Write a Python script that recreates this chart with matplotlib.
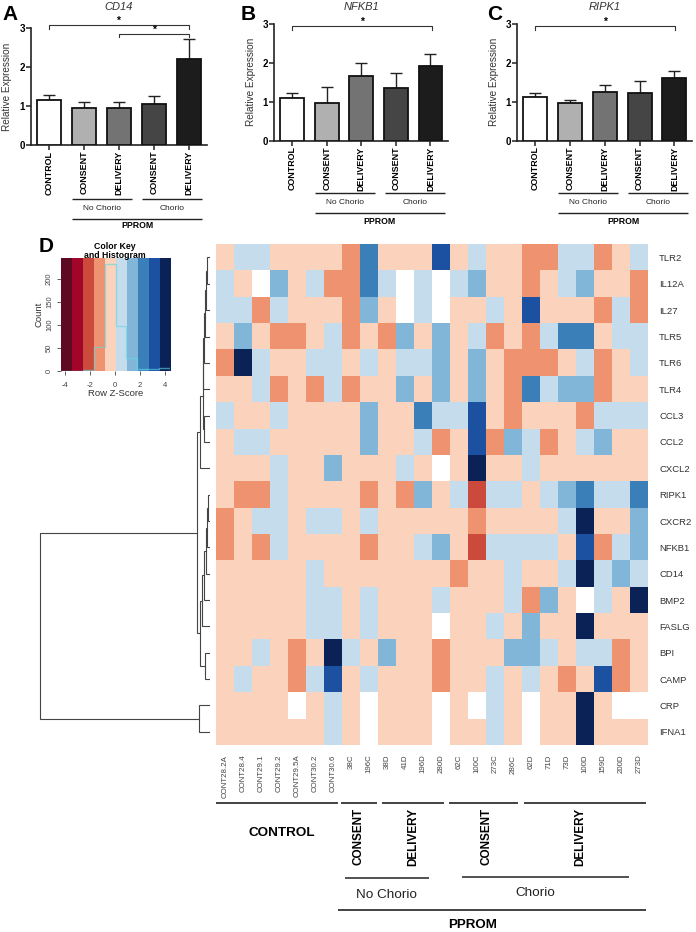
import numpy as np
import matplotlib
matplotlib.use('Agg')
import matplotlib.pyplot as plt
from matplotlib.colors import ListedColormap

plt.rcParams['font.family'] = ['Liberation Sans', 'DejaVu Sans']

W, H = 696, 932

# bar panels
groups = ['CONTROL', 'CONSENT', 'DELIVERY', 'CONSENT', 'DELIVERY']
bar_colors = ['#ffffff', '#b0b0b0', '#737373', '#454545', '#1c1c1c']
cd14_vals = [1.17, 0.95, 0.95, 1.06, 2.20]
cd14_tops = [1.28, 1.11, 1.10, 1.26, 2.73]
nfkb1_vals = [1.11, 0.98, 1.66, 1.35, 1.93]
nfkb1_tops = [1.23, 1.37, 2.00, 1.74, 2.24]
ripk1_vals = [1.13, 0.97, 1.24, 1.22, 1.62]
ripk1_tops = [1.23, 1.04, 1.44, 1.53, 1.78]

# heatmap, one letter per cell: colour band of the z-score, W = missing
genes = ['TLR2', 'IL12A', 'IL27', 'TLR5', 'TLR6', 'TLR4', 'CCL3', 'CCL2', 'CXCL2', 'RIPK1',
         'CXCR2', 'NFKB1', 'CD14', 'BMP2', 'FASLG', 'BPI', 'CAMP', 'CRP', 'IFNA1']
samples = ['CONT28.2A', 'CONT28.4', 'CONT29.1', 'CONT29.2', 'CONT29.5A', 'CONT30.2', 'CONT30.6',
           '38C', '196C', '38D', '41D', '196D', '280D', '62C', '100C', '273C', '286C',
           '62D', '71D', '73D', '100D', '159D', '200D', '273D']
heat_rows = [
    'PLLPPPPOSPPPDPLPPOOLLOPL',
    'LPWMPLOOSLWLWLMPPOPLMPPO',
    'LLOLPPPOMPWLWPPLPDPPPOLO',
    'PMPOOPLOPOMPMPLOPOLSSPLL',
    'ONLPPLLPLPLLMPMPOOOPLOPL',
    'PPLOPOLOPPMPMPMPOSLMMOPP',
    'LPPLPPPPMPPSLLDPOPPPOLLL',
    'PLLPPPPPMPPLOPDOMLOPLMPP',
    'PPPLPPMPPPLPWPNPPLPPPPPP',
    'POOLPPPPOPOMPLRLLPLMSLLS',
    'OPLLPLLPLPPPPPOPPPPLNPPM',
    'OPOLPPPPOPPLMPRLLLLPDOLM',
    'PPPPPLPPPPPPPOPPLPPLNLML',
    'PPPPPLLPLPPPLPPPLOMPWLPN',
    'PPPPPLLPLPPPWPPLPMPPNPPP',
    'PPLPOPNLPMPPOPPPMMLPLLOP',
    'PLPPOLDPLPPPOPPLPLPOPDOP',
    'PPPPWPLPWPPPWPWLPWPPNPWW',
    'PPPPPPLPWPPPWPPLPWPPNPPP',
]
band_colors = ['#5e0a22', '#a1052a', '#cb4a3c', '#ef9270', '#fbd3bc',
               '#c5dcec', '#82b6d9', '#3a7fb8', '#1c50a0', '#0a2255']
band_index = {'R': 2, 'O': 3, 'P': 4, 'L': 5, 'M': 6, 'S': 7, 'D': 8, 'N': 9}

# colour key histogram, counts per band
hist_counts = [0, 0, 2, 52, 232, 97, 29, 6, 6, 8]
key_ticks = [-4, -2, 0, 2, 4]
count_ticks = [0, 50, 100, 150, 200]

# dendrogram merges: (child, child, height), children above 18 are earlier merges
merges = [(0, 1, 0.33), (19, 2, 0.40), (20, 3, 0.53), (21, 4, 0.60), (22, 5, 0.67),
          (6, 7, 0.63), (23, 24, 0.75), (25, 8, 0.97),
          (9, 10, 0.17), (27, 11, 0.33), (28, 12, 0.40), (29, 13, 0.65), (30, 14, 0.83),
          (15, 16, 0.53), (31, 32, 0.97), (26, 33, 1.33), (17, 18, 1.13), (34, 35, 17.0)]


def px_axes(x0, y0, x1, y1, **kw):
    # axes placed by picture pixels, y counted from the top
    return fig.add_axes([x0 / W, 1 - y1 / H, (x1 - x0) / W, (y1 - y0) / H], **kw)


fig = plt.figure(figsize=(W / 100, H / 100), dpi=100)


def bar_panel(x_axis, y_top, y_base, x_end, title, title_x, vals, tops, letter, letter_x):
    ax = px_axes(x_axis, y_top, x_end, y_base)
    xs = np.arange(5)
    ax.bar(xs, vals, width=0.686, color=bar_colors, edgecolor='#111111', linewidth=1.3, zorder=3)
    up = np.array(tops) - np.array(vals)
    ax.errorbar(xs, vals, yerr=[np.zeros(5), up], fmt='none', ecolor='#222222',
                elinewidth=1.0, capsize=4.3, capthick=1.0, zorder=2)
    ax.set_xlim(-0.514, 4.506)
    ax.set_ylim(0, 3)
    ax.set_yticks([0, 1, 2, 3])
    ax.set_xticks(xs)
    ax.set_xticklabels(groups, rotation=90, fontsize=6.4, fontweight='bold')
    ax.set_yticklabels(['0', '1', '2', '3'], fontsize=7, fontweight='bold')
    ax.tick_params(axis='x', length=3.5, width=1.1, pad=0.5, color='#222222')
    ax.tick_params(axis='y', length=3.5, width=1.1, pad=1, color='#222222')
    ax.set_ylabel('Relative Expression', fontsize=7.2, color='#333333', labelpad=5)
    for s in ['top', 'right']:
        ax.spines[s].set_visible(False)
    for s in ['left', 'bottom']:
        ax.spines[s].set_linewidth(1.2)
        ax.spines[s].set_color('#222222')
    ov.text(title_x, 7.5, title, style='italic', fontsize=8, ha='center', va='center', color='#333333')
    ov.text(letter_x, 15, letter, fontsize=15, fontweight='bold', ha='left', va='center')
    return ax


ov = fig.add_axes([0, 0, 1, 1], zorder=10)
ov.set_xlim(0, W)
ov.set_ylim(H, 0)
ov.axis('off')


def rule(x0, x1, y, lw=1.0):
    ov.plot([x0, x1], [y, y], color='#222222', lw=lw, solid_capstyle='butt')


def bracket(x0, x1, y, star_x, star_y):
    ov.plot([x0, x0, x1, x1], [y + 3.3, y, y, y + 3.3], color='#333333', lw=0.8)
    ov.text(star_x, star_y, '*', fontsize=7.5, ha='center', va='center', fontweight='bold')


def under_rules(x_no, x_ch, y_first, text_y, y_pp, y_pptext):
    rule(x_no, x_no + 60, y_first)
    rule(x_ch, x_ch + 60, y_first)
    rule(x_no, x_ch + 60, y_pp)
    ov.text(x_no + 30, text_y, 'No Chorio', fontsize=6, ha='center', va='center', color='#222222')
    ov.text(x_ch + 30, text_y, 'Chorio', fontsize=6, ha='center', va='center', color='#222222')
    ov.text((x_no + x_ch + 60) / 2, y_pptext, 'PPROM', fontsize=6.3, fontweight='bold', ha='center', va='center')


bar_panel(31, 28.3, 145.3, 207, 'CD14', 119, cd14_vals, cd14_tops, 'A', 2)
bar_panel(274.3, 24, 140.7, 448, 'NFKB1', 362, nfkb1_vals, nfkb1_tops, 'B', 241)
bar_panel(517.3, 24, 140.7, 692, 'RIPK1', 605, ripk1_vals, ripk1_tops, 'C', 487)

bracket(49, 189.3, 25.3, 118, 20.5)
bracket(119.3, 189.3, 33.7, 154, 30)
bracket(292, 432, 26.3, 362, 21.5)
bracket(535, 675, 26.3, 605, 21.5)

under_rules(72, 142, 199, 208.5, 218.7, 226)
under_rules(315, 385, 193.3, 203, 213, 221)
under_rules(558, 628, 193.3, 203, 213, 221)

# colour key
key = px_axes(60.7, 258.3, 170.3, 371.3)
key_edges = np.linspace(-4.31, 4.39, 11)
key_cmap = ListedColormap(band_colors)
key.imshow(np.arange(10).reshape(1, 10), cmap=key_cmap, aspect='auto', vmin=-0.5, vmax=9.5,
           extent=[key_edges[0], key_edges[-1], 0, 244], interpolation='nearest')
key.stairs(hist_counts, key_edges, color='#5fd8e6', lw=1.0, alpha=0.6)
key.set_xlim(key_edges[0], key_edges[-1])
key.set_ylim(0, 244)
key.set_xticks(key_ticks)
key.set_yticks(count_ticks)
key.set_xticklabels(['-4', '-2', '0', '2', '4'], fontsize=5.5, color='#444444')
key.set_yticklabels(count_ticks, fontsize=5.5, rotation=90, va='center', color='#444444')
key.tick_params(axis='x', length=3, width=0.6, pad=5, color='#444444')
key.tick_params(axis='y', length=3, width=0.6, pad=2.5, color='#444444')
for s in key.spines.values():
    s.set_visible(False)
key.set_xlabel('Row Z-Score', fontsize=6.8, color='#333333', labelpad=-0.5)
key.set_ylabel('Count', fontsize=6.8, color='#333333', labelpad=1.5)
ov.text(115, 251, 'Color Key\nand Histogram', fontsize=6.3, fontweight='bold', ha='center', va='center',
        linespacing=1.1)
ov.text(39, 247, 'D', fontsize=15, fontweight='bold', ha='left', va='center')

# heatmap
heat = np.array([[np.nan if c == 'W' else band_index[c] for c in row] for row in heat_rows], dtype=float)
heat_cmap = ListedColormap(band_colors)
heat_cmap.set_bad('white')
hm = px_axes(216, 244.3, 648, 745)
hm.imshow(np.ma.masked_invalid(heat), cmap=heat_cmap, vmin=-0.5, vmax=9.5, aspect='auto', interpolation='nearest')
hm.set_xticks(np.arange(len(samples)))
hm.set_xticklabels(samples, rotation=90, fontsize=5.7, color='#444444')
hm.yaxis.tick_right()
hm.set_yticks(np.arange(len(genes)))
hm.set_yticklabels(genes, fontsize=6.8, color='#333333')
hm.tick_params(axis='x', length=0, pad=7)
hm.tick_params(axis='y', length=0, pad=8)
for s in hm.spines.values():
    s.set_visible(False)

# row dendrogram, same row scale as the heatmap
den = px_axes(30, 244.3, 210, 745)
den.set_xlim(18.0, 0)
den.set_ylim(len(genes) - 0.5, -0.5)
den.axis('off')
pos = {i: (i, 0.0) for i in range(len(genes))}
for k, (a, b, h) in enumerate(merges):
    ya, ha = pos[a]
    yb, hb = pos[b]
    den.plot([ha, h, h, hb], [ya, ya, yb, yb], color='#444444', lw=0.8, solid_joinstyle='miter')
    pos[len(genes) + k] = ((ya + yb) / 2, h)

# group labels under the heatmap
for x0, x1 in [(216, 337.7), (341, 377.3), (381.7, 444.3), (449, 518.3), (524, 645.7)]:
    rule(x0, x1, 802.7, 1.2)
ov.text(282.3, 833.3, 'CONTROL', fontsize=9.7, fontweight='bold', ha='center', va='center')
for x, label in [(359, 'CONSENT'), (413.3, 'DELIVERY'), (486, 'CONSENT'), (580.7, 'DELIVERY')]:
    ov.text(x, 836.7, label, fontsize=8.5, fontweight='bold', rotation=90, ha='center', va='center')
rule(345.3, 429, 878, 1.1)
rule(462.3, 628.7, 877, 1.1)
ov.text(386.7, 895, 'No Chorio', fontsize=9.7, ha='center', va='center', color='#222222')
ov.text(535.7, 893, 'Chorio', fontsize=9.7, ha='center', va='center', color='#222222')
rule(338, 645.7, 909.7, 1.2)
ov.text(472.3, 925.5, 'PPROM', fontsize=9.6, fontweight='bold', ha='center', va='center')

fig.savefig('out.png', dpi=100)
